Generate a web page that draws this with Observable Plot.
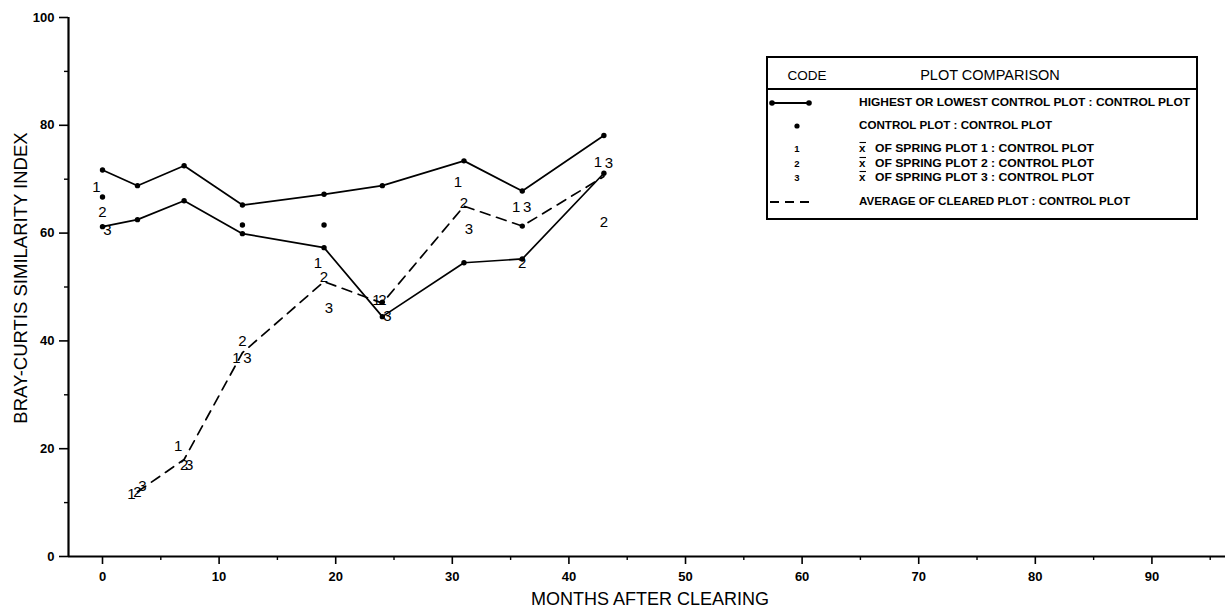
<!DOCTYPE html>
<html><head><meta charset="utf-8">
<script src="https://cdn.jsdelivr.net/npm/d3@7"></script>
<script src="https://cdn.jsdelivr.net/npm/@observablehq/plot@0.6"></script>
<style>
html,body{margin:0;padding:0;background:#fff;}
#chart{position:relative;width:1225px;height:613px;}
</style>
</head><body><div id="chart"></div>
<script>
// ---- data ----
const months = [0, 3, 7, 12, 19, 24, 31, 36, 43];
const highestControl = [71.7, 68.8, 72.5, 65.2, 67.2, 68.8, 73.4, 67.8, 78.1];
const lowestControl  = [61.2, 62.5, 66.0, 59.9, 57.3, 44.5, 54.5, 55.2, 71.1];
const spring1 = [68.5, 11.5, 20.4, 36.7, 54.4, 47.5, 69.5, 64.8, 73.2];
const spring2 = [63.9, 12.0, 16.9, 39.9, 51.9, 47.5, 65.5, 54.4, 62.0];
const spring3 = [60.6, 13.0, 16.9, 36.7, 46.0, 44.5, 60.7, 64.8, 72.9];
const controlMonths = [0, 12, 19, 24, 36];
const controlValues = [66.7, 61.5, 61.5, 47.2, 61.3];
const clearedMonths = [3, 7, 12, 19, 24, 31, 36, 43];
const clearedAvg    = [12.0, 18.0, 37.8, 51.0, 47.0, 65.0, 61.3, 70.5];

const xMajorTicks = [0, 10, 20, 30, 40, 50, 60, 70, 80, 90];
const xMinorTicks = [5, 15, 25, 35, 45, 55, 65, 75, 85, 95];
const yMajorTicks = [0, 20, 40, 60, 80, 100];
const yMinorTicks = [10, 30, 50, 70, 90];

const xLabel = "MONTHS AFTER CLEARING";
const yLabel = "BRAY-CURTIS SIMILARITY INDEX";
const legendHeader = ["CODE", "PLOT COMPARISON"];
const legendCodes = ["line", "dot", "1", "2", "3", "dash"];
const legendTexts = [
  "HIGHEST OR LOWEST CONTROL PLOT : CONTROL PLOT",
  "CONTROL PLOT : CONTROL PLOT",
  "OF SPRING PLOT 1 : CONTROL PLOT",
  "OF SPRING PLOT 2 : CONTROL PLOT",
  "OF SPRING PLOT 3 : CONTROL PLOT",
  "AVERAGE OF CLEARED PLOT : CONTROL PLOT"
];
const meanSymbol = "x";

// ---- tables ----
const rows = months.map((m, i) => ({month: m, high: highestControl[i], low: lowestControl[i],
  s1: spring1[i], s2: spring2[i], s3: spring3[i]}));
const control = controlMonths.map((m, i) => ({month: m, value: controlValues[i]}));
const cleared = clearedMonths.map((m, i) => ({month: m, value: clearedAvg[i]}));

const font = "'Liberation Sans', Arial, Helvetica, sans-serif";
const xDomain = [-2.916, 96.31];

const chart = Plot.plot({
  width: 1225, height: 613,
  marginLeft: 68, marginRight: 0, marginTop: 17, marginBottom: 57,
  x: {domain: xDomain, axis: null},
  y: {domain: [0, 100], axis: null},
  style: {fontFamily: font, color: "black", background: "white"},
  marks: [
    Plot.axisX(xMajorTicks, {tickSize: 8, tickPadding: 7, fontSize: 13, fontWeight: "bold", label: null, strokeWidth: 1.6}),
    Plot.axisX(xMinorTicks, {tickSize: 4, tickFormat: () => "", label: null, strokeWidth: 1.4}),
    Plot.axisY(yMajorTicks, {tickSize: 9, tickPadding: 5, fontSize: 13, fontWeight: "bold", label: null, strokeWidth: 1.6}),
    Plot.axisY(yMinorTicks, {tickSize: 4, tickFormat: () => "", label: null, strokeWidth: 1.4}),
    Plot.ruleY([0], {strokeWidth: 2}),
    Plot.ruleX([xDomain[0]], {strokeWidth: 2.2}),
    Plot.line(rows, {x: "month", y: "high", stroke: "black", strokeWidth: 1.7}),
    Plot.line(rows, {x: "month", y: "low", stroke: "black", strokeWidth: 1.7}),
    Plot.dot(rows, {x: "month", y: "high", r: 2.7, fill: "black"}),
    Plot.dot(rows, {x: "month", y: "low", r: 2.7, fill: "black"}),
    Plot.line(cleared, {x: "month", y: "value", stroke: "black", strokeWidth: 1.7, strokeDasharray: "10,7"}),
    Plot.dot(control, {x: "month", y: "value", r: 2.7, fill: "black"}),
    Plot.text(rows, {x: "month", y: "s1", text: () => "1", dx: -6, fontSize: 15, fill: "black"}),
    Plot.text(rows, {x: "month", y: "s2", text: () => "2", dx: 0, fontSize: 15, fill: "black"}),
    Plot.text(rows, {x: "month", y: "s3", text: () => "3", dx: 5, fontSize: 15, fill: "black"})
  ]
});

document.getElementById("chart").appendChild(chart);

// ---- axis titles and legend (drawn into the same SVG) ----
const svg = d3.select(chart);
svg.append("text").attr("x", 650).attr("y", 600).attr("text-anchor", "middle")
  .attr("dominant-baseline", "middle").attr("font-family", font).attr("font-size", 18).text(xLabel);
svg.append("text").attr("transform", "translate(22,278) rotate(-90)").attr("text-anchor", "middle")
  .attr("dominant-baseline", "middle").attr("font-family", font).attr("font-size", 18.5).text(yLabel);

const lg = svg.append("g").attr("font-family", font).attr("fill", "black").attr("text-anchor", "start");
lg.append("rect").attr("x", 767).attr("y", 57).attr("width", 430).attr("height", 162)
  .attr("fill", "white").attr("stroke", "black").attr("stroke-width", 2);
lg.append("line").attr("x1", 767).attr("x2", 1197).attr("y1", 89).attr("y2", 89)
  .attr("stroke", "black").attr("stroke-width", 2);
lg.append("text").attr("x", 807).attr("y", 76).attr("text-anchor", "middle").attr("dominant-baseline", "middle")
  .attr("font-size", 13.5).text(legendHeader[0]);
lg.append("text").attr("x", 990).attr("y", 76).attr("text-anchor", "middle").attr("dominant-baseline", "middle")
  .attr("font-size", 14.5).text(legendHeader[1]);
const rowY = [103, 126, 149, 164, 178, 202];
const rowLen = [331, 193, 219, 219, 219, 271];
legendCodes.forEach((code, i) => {
  const y = rowY[i];
  let tx = 859;
  if (code === "line") {
    lg.append("line").attr("x1", 772).attr("x2", 809).attr("y1", y).attr("y2", y).attr("stroke", "black").attr("stroke-width", 1.8);
    lg.append("circle").attr("cx", 772).attr("cy", y).attr("r", 2.8);
    lg.append("circle").attr("cx", 809).attr("cy", y).attr("r", 2.8);
  } else if (code === "dot") {
    lg.append("circle").attr("cx", 797).attr("cy", y).attr("r", 2.6);
  } else if (code === "dash") {
    lg.append("line").attr("x1", 770).attr("x2", 811).attr("y1", y).attr("y2", y).attr("stroke", "black")
      .attr("stroke-width", 1.8).attr("stroke-dasharray", "9,6");
  } else {
    lg.append("text").attr("x", 797).attr("y", y).attr("text-anchor", "middle").attr("dominant-baseline", "middle")
      .attr("font-size", 9.5).attr("font-weight", "bold").text(code);
    // x-bar mean symbol
    lg.append("text").attr("x", 859).attr("y", y).attr("dominant-baseline", "middle")
      .attr("font-size", 11.5).attr("font-weight", "bold").text(meanSymbol);
    lg.append("line").attr("x1", 859.5).attr("x2", 866).attr("y1", y - 6.5).attr("y2", y - 6.5)
      .attr("stroke", "black").attr("stroke-width", 1.1);
    tx = 875;
  }
  lg.append("text").attr("x", tx).attr("y", y).attr("dominant-baseline", "middle")
    .attr("font-size", 11.5).attr("font-weight", "bold")
    .attr("textLength", rowLen[i]).attr("lengthAdjust", "spacingAndGlyphs")
    .text(legendTexts[i]);
});
</script>
</body></html>
